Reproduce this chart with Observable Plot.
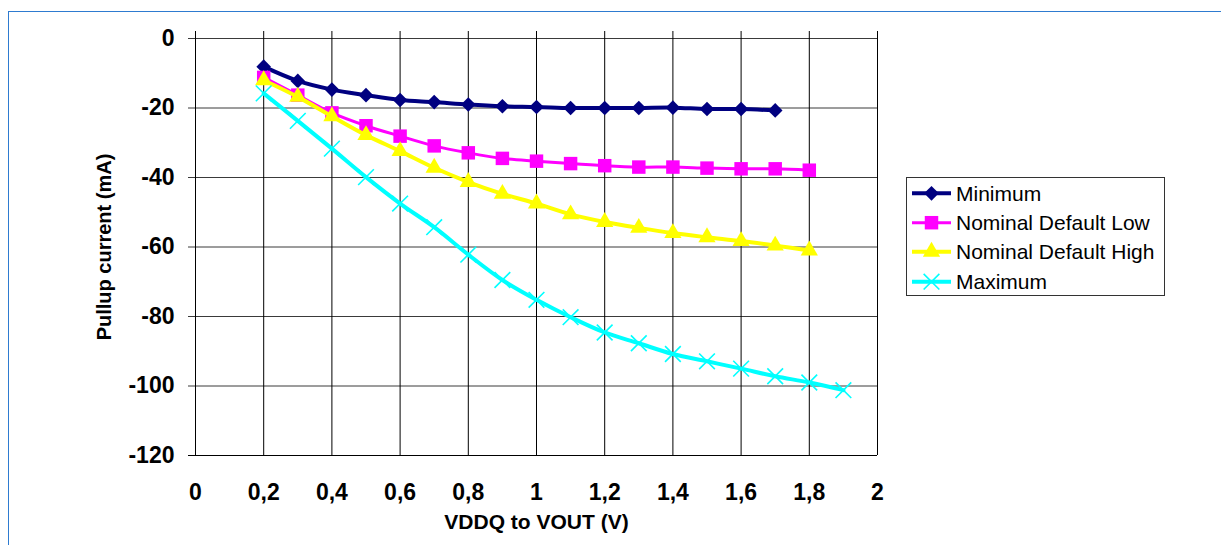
<!DOCTYPE html>
<html>
<head>
<meta charset="utf-8">
<script src="https://cdn.jsdelivr.net/npm/d3@7"></script>
<script src="https://cdn.jsdelivr.net/npm/@observablehq/plot@0.6"></script>
<style>
  body { margin: 0; background: #fff; }
  #wrap { position: relative; width: 1221px; height: 545px; overflow: hidden; font-family: "Liberation Sans", Arial, sans-serif; }
  #frame { position: absolute; left: 8px; top: 11px; right: -10px; bottom: -10px; border-top: 1px solid #2e7bd0; border-left: 1px solid #2e7bd0; }
  #chart { position: absolute; left: 0; top: 0; }
  #legend { position: absolute; left: 906px; top: 177px; }
</style>
</head>
<body>
<div id="wrap"><div id="frame"></div><div id="chart"></div><div id="legend"></div></div>
<script>
// ---- data ----
const vout = [0.2, 0.3, 0.4, 0.5, 0.6, 0.7, 0.8, 0.9, 1.0, 1.1, 1.2, 1.3, 1.4, 1.5, 1.6, 1.7, 1.8, 1.9];
const minimum = [-8.1, -12.2, -14.7, -16.3, -17.7, -18.3, -19.0, -19.5, -19.7, -20.0, -20.0, -20.0, -19.9, -20.3, -20.3, -20.7];
const nominalDefaultLow = [-11.2, -16.3, -21.4, -25.1, -28.1, -30.9, -32.9, -34.5, -35.3, -36.0, -36.6, -37.0, -37.0, -37.3, -37.5, -37.5, -37.9];
const nominalDefaultHigh = [-12.0, -16.8, -22.4, -27.8, -32.4, -37.2, -41.3, -44.7, -47.5, -50.6, -52.8, -54.5, -56.0, -57.2, -58.3, -59.6, -61.0];
const maximum = [-15.8, -23.7, -31.7, -39.9, -47.5, -54.3, -62.2, -69.5, -75.2, -80.2, -84.6, -87.7, -90.8, -92.9, -95.0, -97.2, -99.0, -101.2];
const seriesNames = ["Minimum", "Nominal Default Low", "Nominal Default High", "Maximum"];
const xTicks = [0, 0.2, 0.4, 0.6, 0.8, 1, 1.2, 1.4, 1.6, 1.8, 2];
const yTicks = [0, -20, -40, -60, -80, -100, -120];
const xTitle = "VDDQ to VOUT (V)";
const yTitle = "Pullup current (mA)";

// ---- styles ----
const styles = [
  {name: seriesNames[0], values: minimum, color: "#000080", sw: 4, symbol: "diamond2", r: 6.6, d3sym: d3.symbolDiamond2},
  {name: seriesNames[1], values: nominalDefaultLow, color: "#ff00ff", sw: 3, symbol: "square", r: 7.6, d3sym: d3.symbolSquare},
  {name: seriesNames[2], values: nominalDefaultHigh, color: "#ffff00", sw: 4, symbol: "triangle", r: 6.4, d3sym: d3.symbolTriangle},
  {name: seriesNames[3], values: maximum, color: "#00ffff", sw: 4, symbol: "times", r: 7.2, d3sym: d3.symbolTimes}
];

const rows = styles.flatMap(s => s.values.map((v, i) => ({x: vout[i], y: v, series: s.name})));
const fmt = d => String(d).replace(".", ",");
const font = "Liberation Sans, Arial, sans-serif";

const seriesMarks = styles.flatMap(s => {
  const data = rows.filter(r => r.series === s.name);
  const dotOpts = s.symbol === "times"
    ? {x: "x", y: "y", symbol: "times", r: s.r, stroke: s.color, strokeWidth: 1.6, fill: "none"}
    : {x: "x", y: "y", symbol: s.symbol, r: s.r, fill: s.color, stroke: "none"};
  return [
    Plot.line(data, {x: "x", y: "y", stroke: s.color, strokeWidth: s.sw, curve: "catmull-rom"}),
    Plot.dot(data, dotOpts)
  ];
});

const chart = Plot.plot({
  width: 1221,
  height: 545,
  marginLeft: 195,
  marginRight: 344,
  marginTop: 38,
  marginBottom: 90,
  style: {background: "transparent", fontFamily: font, color: "#000", overflow: "visible"},
  x: {domain: [0, 2]},
  y: {domain: [-120, 0]},
  marks: [
    Plot.ruleY(yTicks.filter(d => d !== -120), {stroke: "#3a3a3a", strokeWidth: 1, insetLeft: -7}),
    Plot.ruleY([-120], {stroke: "#000", strokeWidth: 1.2, insetLeft: -7}),
    Plot.ruleX(xTicks, {stroke: "#000", strokeWidth: 1, insetTop: -7}),
    Plot.axisY({ticks: yTicks, tickSize: 0, tickPadding: 21, tickFormat: fmt, fontSize: 23, fontWeight: "bold", label: null}),
    Plot.axisX({ticks: xTicks, tickSize: 0, tickPadding: 28, tickFormat: fmt, fontSize: 23, fontWeight: "bold", label: null}),
    Plot.text([xTitle], {text: d => d, frameAnchor: "bottom", dy: 73, fontSize: 21, fontWeight: "bold", fill: "#000", textAnchor: "middle"}),
    Plot.text([yTitle], {text: d => d, frameAnchor: "left", dx: -91, rotate: -90, fontSize: 20, fontWeight: "bold", fill: "#000", textAnchor: "middle"}),
    ...seriesMarks
  ]
});
document.getElementById("chart").appendChild(chart);

// ---- legend ----
const lg = d3.select("#legend").append("svg").attr("width", 262).attr("height", 122);
lg.append("rect").attr("x", 0.5).attr("y", 0.5).attr("width", 258).attr("height", 118)
  .attr("fill", "#fff").attr("stroke", "#333").attr("stroke-width", 1);
const rowY = [16.3, 45.7, 74.7, 104.7];
styles.forEach((s, i) => {
  const g = lg.append("g").attr("transform", `translate(0,${rowY[i]})`);
  g.append("line").attr("x1", 6).attr("x2", 45).attr("y1", 0).attr("y2", 0)
    .attr("stroke", s.color).attr("stroke-width", s.sw);
  const path = d3.symbol(s.d3sym, s.r * s.r * Math.PI)();
  const p = g.append("path").attr("d", path).attr("transform", "translate(25.5,0)");
  if (s.symbol === "times") p.attr("fill", "none").attr("stroke", s.color).attr("stroke-width", 1.6);
  else p.attr("fill", s.color);
  g.append("text").attr("x", 50).attr("y", 0).attr("dy", "0.35em")
    .attr("font-family", font).attr("font-size", 21).attr("fill", "#000").text(s.name);
});
</script>
</body>
</html>
